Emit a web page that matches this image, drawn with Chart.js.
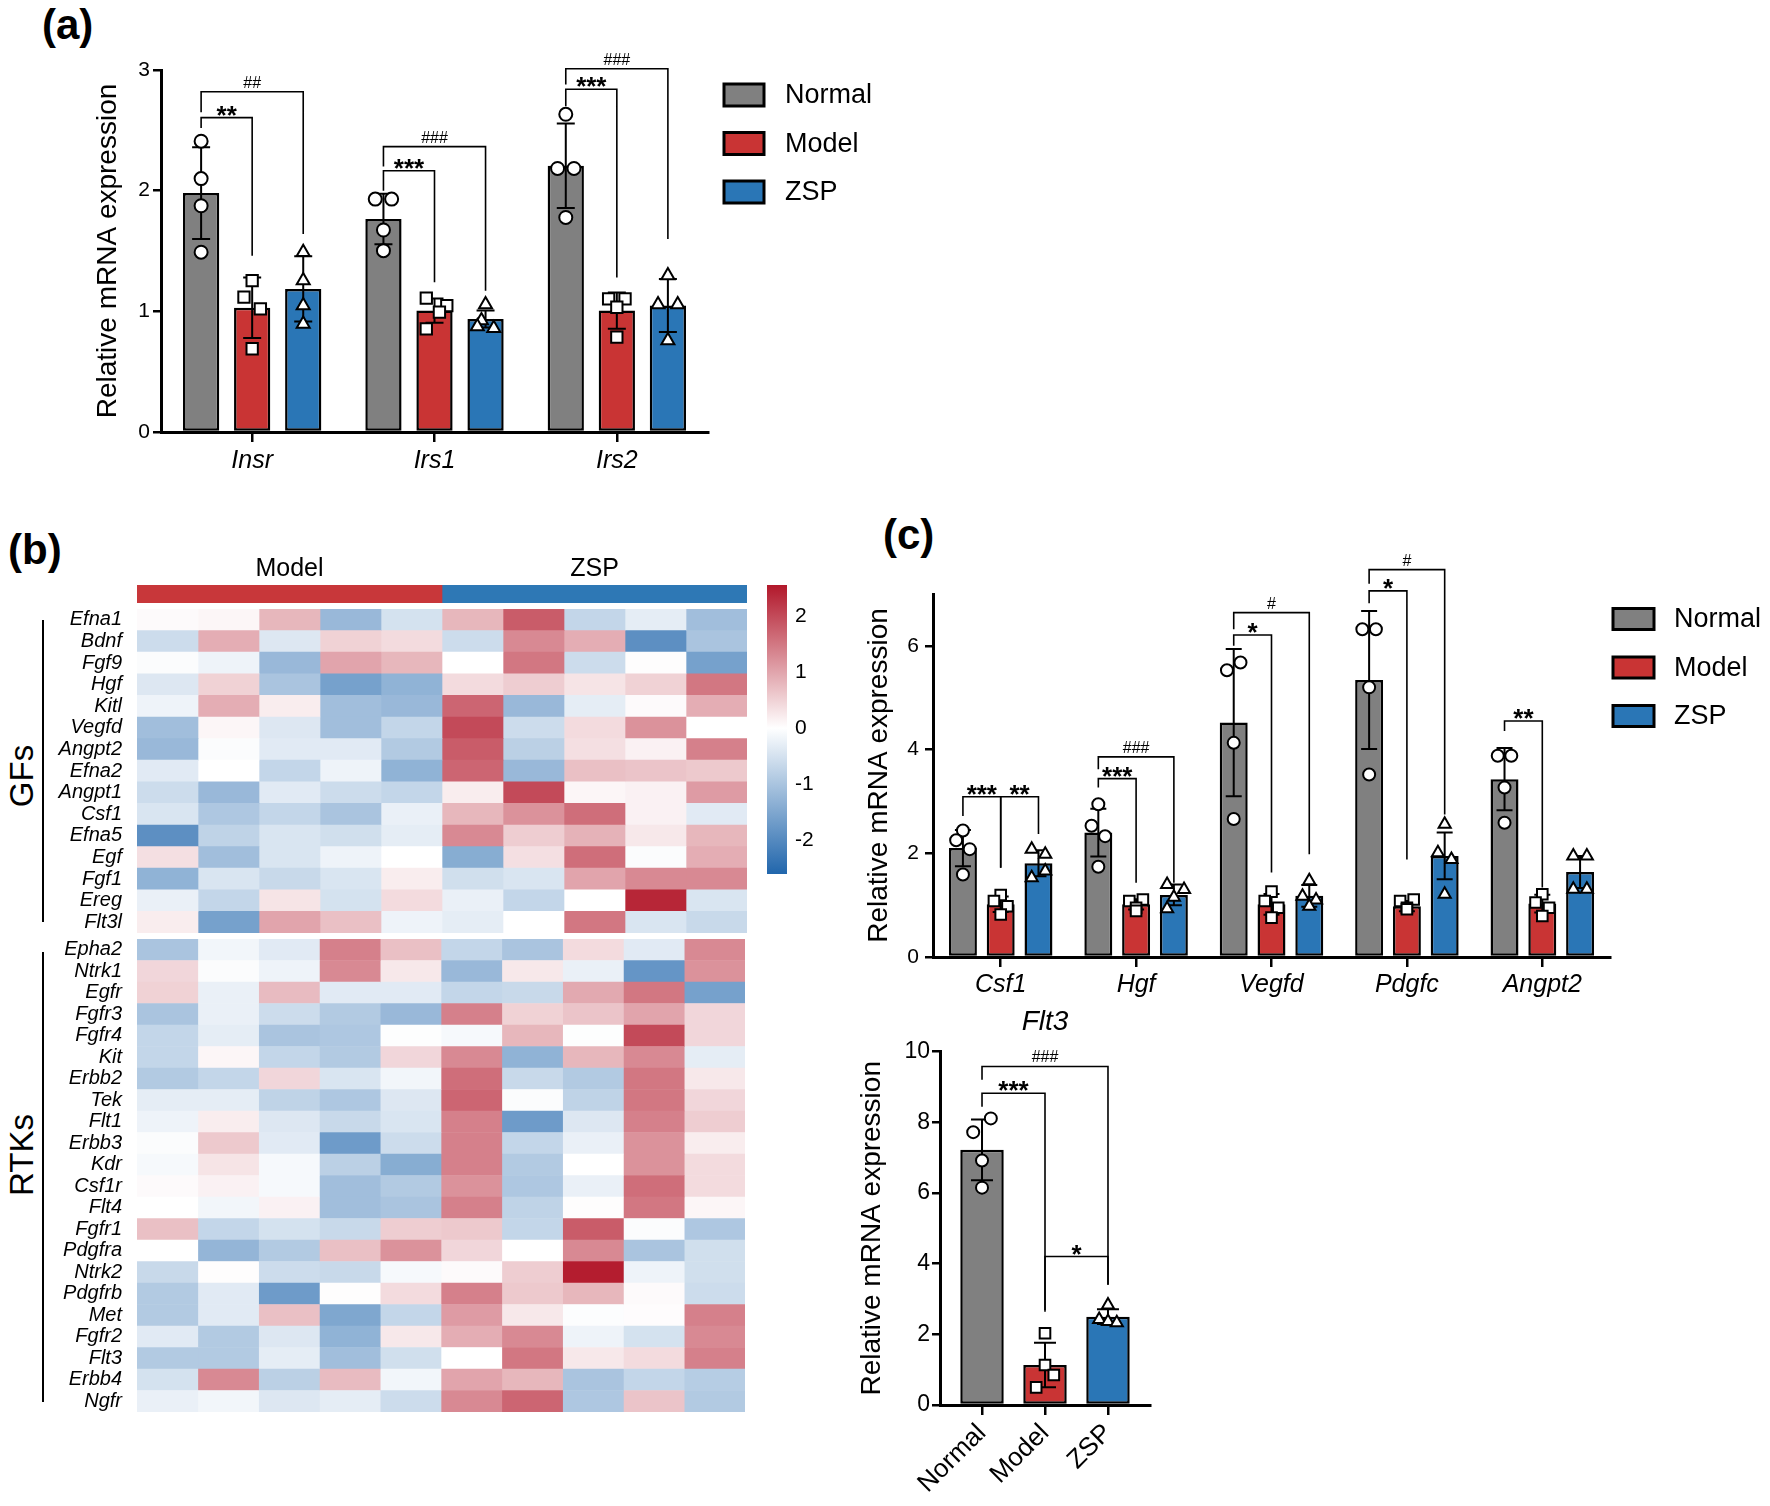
<!DOCTYPE html>
<html>
<head>
<meta charset="utf-8">
<title>Insulin / growth factor receptor expression</title>
<script src="https://cdn.jsdelivr.net/npm/chart.js"></script>
<style>
  body { margin: 0; background: #fff; }
  #page { position: relative; width: 1770px; height: 1506px; font-family: 'Liberation Sans', Arial, Helvetica, sans-serif; color: #000; overflow: hidden; }
  canvas { position: absolute; }
  .tag { position: absolute; font-weight: bold; font-size: 42px; line-height: 1; }
  .grp { position: absolute; font-size: 33px; line-height: 1; transform: translate(-50%, -50%) rotate(-90deg); white-space: nowrap; }
  .vline { position: absolute; width: 0; border-left: 2px solid #000; }
</style>
</head>
<body>
<div id="page">
  <div class="tag" style="left:42px; top:4px;">(a)</div>
  <div class="tag" style="left:8px; top:529px;">(b)</div>
  <div class="tag" style="left:883px; top:514px;">(c)</div>

  <div class="grp" style="left:21px; top:776px;">GFs</div>
  <div class="grp" style="left:21px; top:1155px;">RTKs</div>
  <div class="vline" style="left:42px; top:620px; height:302px;"></div>
  <div class="vline" style="left:42px; top:952px; height:450px;"></div>

  <canvas id="chartA" width="900" height="490" style="left:0; top:0;"></canvas>
  <canvas id="chartGroups" width="700" height="62" style="left:100px; top:545px;"></canvas>
  <canvas id="chartGF" width="760" height="384" style="left:0; top:579px;"></canvas>
  <canvas id="chartRTK" width="760" height="533" style="left:0; top:909px;"></canvas>
  <canvas id="chartScale" width="60" height="333" style="left:760px; top:563px;"></canvas>
  <canvas id="chartC" width="920" height="520" style="left:850px; top:500px;"></canvas>
  <canvas id="chartFlt3" width="370" height="506" style="left:830px; top:1000px;"></canvas>
</div>

<script>
// ---------- data ----------
const groups = ['Normal', 'Model', 'ZSP'];
const groupColors = ['#808080', '#C93434', '#2A76B6'];
const pointStyles = ['circle', 'rect', 'triangle'];
const pointRadii = [6.5, 8, 7.5];

// (a) insulin signalling genes
const aGenes = ['Insr', 'Irs1', 'Irs2'];
const aMean = [[1.98, 1.765, 2.206], [1.03, 1.006, 1.006], [1.186, 0.937, 1.048]];
const aSD = [[0.38, 0.21, 0.35], [0.25, 0.10, 0.15], [0.27, 0.07, 0.22]];
const aNormalPts = [[2.41, 2.10, 1.875, 1.49], [1.93, 1.93, 1.674, 1.503], [2.633, 2.184, 2.184, 1.778]];
const aModelPts = [[1.255, 1.117, 1.02, 0.69], [1.11, 1.048, 0.993, 0.855], [1.103, 1.103, 1.034, 0.786]];
const aZspPts = [[1.49, 1.255, 1.048, 0.896], [1.056, 0.924, 0.874, 0.86], [1.296, 1.056, 1.056, 0.758]];
const aNormalJit = [[0, 0, 0, 0], [-1, 1, 0, 0], [0, -1, 1, 0]];
const aModelJit = [[0, -1, 1, 0], [-1, 1.5, 0.6, -1], [-1, 1, 0, 0]];
const aZspJit = [[0, 0, 0, 0], [0, -0.5, -1, 1], [0, -1.2, 1.2, 0]];
// [from [group, gene], to [group, gene], bracket y, left leg end, right leg end, label]
const aBrackets = [
  [[0, 0], [1, 0], 2.605, 2.52, 1.46, '**'],
  [[0, 0], [2, 0], 2.82, 2.65, 1.64, '##'],
  [[0, 1], [1, 1], 2.165, 2.0, 1.24, '***'],
  [[0, 1], [2, 1], 2.365, 2.2, 1.17, '###'],
  [[0, 2], [1, 2], 2.84, 2.7, 1.28, '***'],
  [[0, 2], [2, 2], 3.01, 2.88, 1.6, '###']
];

// (c) growth factor genes
const cGenes = ['Csf1', 'Hgf', 'Vegfd', 'Pdgfc', 'Angpt2'];
const cMean = [[2.10, 2.40, 4.52, 5.34, 3.43], [1.016, 1.016, 1.016, 0.98, 1.03], [1.807, 1.196, 1.18, 1.95, 1.64]];
const cSD = [[0.35, 0.46, 1.42, 1.33, 0.6], [0.15, 0.10, 0.2, 0.10, 0.17], [0.25, 0.2, 0.21, 0.45, 0.31]];
const cNormalPts = [[2.44, 2.25, 2.08, 1.59], [2.945, 2.53, 2.33, 1.74], [5.68, 5.53, 4.13, 2.66], [6.32, 6.32, 5.2, 3.52], [3.88, 3.88, 3.27, 2.59]];
const cModelPts = [[1.196, 1.08, 0.98, 0.82], [1.11, 1.08, 0.95, 0.89], [1.26, 1.08, 0.95, 0.76], [1.11, 1.08, 0.95, 0.92], [1.21, 1.05, 0.95, 0.79]];
const cZspPts = [[2.08, 1.98, 1.66, 1.53], [1.4, 1.3, 1.15, 0.93], [1.47, 1.17, 1.1, 0.98], [2.56, 2.01, 1.88, 1.21], [1.95, 1.95, 1.305, 1.305]];
const cNormalJit = [[0, -1, 1, 0], [0, -1, 1, 0], [1, -1, 0, 0], [-1, 1, 0, 0], [-1, 1, 0, 0]];
const cModelJit = [[0, -1, 1, 0], [1, -1, 0, 0], [0, -1, 1, 0], [1, -1, 0, 0], [0, -1, 1, 0]];
const cZspJit = [[-1, 1, 1, -1], [-1, 1.5, 0, -1], [0, -1, 1, 0], [0, -1, 1, 0], [-1, 1, -1, 1]];
const cBrackets = [
  [[0, 0], [1, 0], 3.09, 2.72, 1.72, '***'],
  [[1, 0], [2, 0], 3.09, 1.72, 2.37, '**'],
  [[0, 1], [1, 1], 3.44, 3.27, 1.43, '***'],
  [[0, 1], [2, 1], 3.86, 3.62, 1.43, '###'],
  [[0, 2], [1, 2], 6.21, 6.0, 1.63, '*'],
  [[0, 2], [2, 2], 6.64, 6.32, 1.98, '#'],
  [[0, 3], [1, 3], 7.06, 6.82, 1.88, '*'],
  [[0, 3], [2, 3], 7.47, 7.2, 2.75, '#'],
  [[0, 4], [1, 4], 4.55, 4.36, 1.34, '**']
];

// Flt3
const flt3Mean = [7.22, 1.13, 2.5];
const flt3SD = [0.86, 0.63, 0.21];
const flt3Pts = [[8.11, 7.72, 6.92, 6.15], [2.03, 1.13, 0.85, 0.5], [2.83, 2.42, 2.36, 2.33]];
const flt3Jit = [[1, -1, 0, 0], [0, 0, 1, -1], [0, -1, 0, 1]];
const flt3Brackets = [
  [[0, 0], [0, 2], 9.58, 9.2, 3.4, '###'],
  [[0, 0], [0, 1], 8.82, 8.44, 2.64, '***'],
  [[0, 1], [0, 2], 4.2, 2.69, 3.4, '*']
];

// (b) heatmap, z-scores, columns = Model 1-5, ZSP 1-5
const sampleNames = ['Model 1', 'Model 2', 'Model 3', 'Model 4', 'Model 5', 'ZSP 1', 'ZSP 2', 'ZSP 3', 'ZSP 4', 'ZSP 5'];
const sampleGroups = ['Model', 'ZSP'];
const sampleGroupSizes = [5, 5];
const gfGenes = ['Efna1', 'Bdnf', 'Fgf9', 'Hgf', 'Kitl', 'Vegfd', 'Angpt2', 'Efna2', 'Angpt1', 'Csf1', 'Efna5', 'Egf', 'Fgf1', 'Ereg', 'Flt3l'];
const gfValues = [
  [0.05, 0.1, 0.8, -1.2, -0.5, 0.8, 1.8, -0.7, -0.3, -1.1],
  [-0.6, 0.9, -0.4, 0.5, 0.4, -0.6, 1.3, 0.9, -1.9, -1.0],
  [-0.05, -0.2, -1.2, 1.0, 0.8, 0, 1.5, -0.6, 0.02, -1.6],
  [-0.4, 0.5, -1.0, -1.6, -1.3, 0.4, 0.55, 0.3, 0.5, 1.5],
  [-0.2, 0.9, 0.2, -1.1, -1.2, 1.7, -1.2, -0.3, 0.05, 0.9],
  [-1.1, 0.1, -0.4, -1.1, -0.7, 2.0, -0.6, 0.4, 1.2, 0],
  [-1.2, -0.05, -0.35, -0.35, -0.9, 1.8, -0.8, 0.35, 0.15, 1.4],
  [-0.35, 0, -0.7, -0.2, -1.3, 1.7, -1.2, 0.7, 0.65, 0.6],
  [-0.6, -1.2, -0.35, -0.6, -0.7, 0.2, 2.0, 0.1, 0.15, 1.1],
  [-0.45, -0.95, -0.7, -1.0, -0.25, 0.8, 1.2, 1.6, 0.15, -0.35],
  [-1.9, -0.75, -0.45, -0.55, -0.3, 1.3, 0.55, 0.85, 0.25, 0.8],
  [0.35, -1.1, -0.45, -0.2, 0, -1.4, 0.35, 1.6, -0.05, 0.9],
  [-1.3, -0.45, -0.65, -0.45, 0.2, -0.55, -0.45, 1.0, 1.3, 1.3],
  [-0.25, -0.7, 0.3, -0.5, 0.4, -0.25, -0.7, 0, 2.4, -0.45],
  [0.2, -1.6, 1.0, 0.7, -0.2, -0.3, 0, 1.5, -0.45, -0.65]
];
const rtkGenes = ['Epha2', 'Ntrk1', 'Egfr', 'Fgfr3', 'Fgfr4', 'Kit', 'Erbb2', 'Tek', 'Flt1', 'Erbb3', 'Kdr', 'Csf1r', 'Flt4', 'Fgfr1', 'Pdgfra', 'Ntrk2', 'Pdgfrb', 'Met', 'Fgfr2', 'Flt3', 'Erbb4', 'Ngfr'];
const rtkValues = [
  [-1.0, -0.15, -0.35, 1.4, 0.7, -0.7, -1.0, 0.4, -0.35, 1.3],
  [0.45, -0.05, -0.2, 1.3, 0.25, -1.2, 0.25, -0.25, -1.8, 1.2],
  [0.5, -0.25, 0.75, -0.35, -0.35, -0.7, -0.65, 0.95, 1.5, -1.6],
  [-1.0, -0.25, -0.6, -0.9, -1.2, 1.4, 0.5, 0.65, 1.0, 0.45],
  [-0.7, -0.3, -1.0, -0.95, -0.02, -0.1, 0.8, -0.02, 2.0, 0.45],
  [-0.7, 0.1, -0.7, -0.9, 0.45, 1.3, -1.3, 0.8, 1.3, -0.3],
  [-0.9, -0.7, 0.45, -0.45, -0.15, 1.6, -0.65, -0.9, 1.5, 0.25],
  [-0.3, -0.3, -0.75, -0.95, -0.4, 1.7, -0.05, -0.75, 1.5, 0.45],
  [-0.2, 0.2, -0.4, -0.65, -0.45, 1.4, -1.7, -0.4, 1.4, 0.55],
  [-0.05, 0.6, -0.35, -1.7, -0.6, 1.4, -0.7, -0.25, 1.2, 0.2],
  [-0.1, 0.3, -0.1, -0.8, -1.4, 1.4, -0.9, 0, 1.2, 0.4],
  [0.05, 0.15, -0.1, -1.1, -0.9, 1.2, -0.95, -0.25, 1.6, 0.4],
  [0, -0.15, 0.15, -1.1, -1.0, 1.4, -0.75, 0.02, 1.5, 0.1],
  [0.7, -0.7, -0.5, -0.65, 0.55, 0.6, -0.7, 1.8, -0.05, -0.95],
  [0, -1.25, -0.9, 0.7, 1.2, 0.45, 0, 1.3, -1.0, -0.55],
  [-0.65, 0.02, -0.6, -0.65, -0.1, 0.05, 0.55, 2.5, -0.2, -0.55],
  [-0.9, -0.35, -1.7, 0.02, 0.4, 1.4, 0.6, 0.8, 0.05, -0.6],
  [-0.9, -0.35, 0.7, -1.5, -0.7, 1.1, 0.25, -0.03, 0.03, 1.4],
  [-0.35, -0.9, -0.4, -1.3, 0.25, 0.9, 1.3, -0.2, -0.5, 1.3],
  [-0.9, -0.9, -0.3, -1.1, -0.55, 0, 1.5, 0.25, 0.4, 1.4],
  [-0.5, 1.3, -0.8, 0.75, -0.15, 1.0, 0.8, -1.0, -0.7, -0.85],
  [-0.25, -0.15, -0.4, -0.3, -0.6, 1.3, 1.7, -0.95, 0.65, -0.9]
];
const scaleMin = -2.6;
const scaleMax = 2.55;
const scaleLow = [33, 102, 172];
const scaleHigh = [178, 24, 43];

// ---------- helpers ----------
const FONT = "'Liberation Sans', Arial, Helvetica, sans-serif";
Chart.defaults.font.family = FONT;
Chart.defaults.color = '#000';
Chart.defaults.animation = false;
Chart.defaults.responsive = false;
Chart.defaults.events = [];
Chart.defaults.plugins.legend.display = false;
Chart.defaults.plugins.tooltip.enabled = false;

function heatColor(v) {
  const c = v >= 0 ? scaleHigh : scaleLow;
  const t = Math.min(Math.abs(v) / (v >= 0 ? scaleMax : -scaleMin), 1);
  const mix = k => Math.round(255 + (c[k] - 255) * t);
  return `rgb(${mix(0)},${mix(1)},${mix(2)})`;
}

// error bars drawn right after each bar dataset, so the dots end up on top
const errorBars = {
  id: 'errorBars',
  afterDatasetDraw(chart, args, opts) {
    const ds = chart.data.datasets[args.index];
    if (!ds.sd) return;
    const ctx = chart.ctx, y = chart.scales.y;
    ctx.save();
    ctx.strokeStyle = '#000';
    ctx.lineWidth = 2;
    args.meta.data.forEach((bar, j) => {
      const m = typeof ds.data[j] === 'object' ? ds.data[j].y : ds.data[j];
      const top = y.getPixelForValue(m + ds.sd[j]);
      const bot = y.getPixelForValue(m - ds.sd[j]);
      ctx.beginPath();
      ctx.moveTo(bar.x, top); ctx.lineTo(bar.x, bot);
      ctx.moveTo(bar.x - opts.cap, top); ctx.lineTo(bar.x + opts.cap, top);
      ctx.moveTo(bar.x - opts.cap, bot); ctx.lineTo(bar.x + opts.cap, bot);
      ctx.stroke();
    });
    ctx.restore();
  }
};

// significance brackets
const brackets = {
  id: 'brackets',
  afterDraw(chart, args, opts) {
    const ctx = chart.ctx, y = chart.scales.y;
    ctx.save();
    ctx.strokeStyle = '#000';
    ctx.fillStyle = '#000';
    ctx.lineWidth = 1.6;
    ctx.textAlign = 'center';
    ctx.textBaseline = 'alphabetic';
    opts.items.forEach(([a, b, yLine, legA, legB, text]) => {
      const x1 = chart.getDatasetMeta(a[0]).data[a[1]].x;
      const x2 = chart.getDatasetMeta(b[0]).data[b[1]].x;
      const py = y.getPixelForValue(yLine);
      ctx.beginPath();
      ctx.moveTo(x1, y.getPixelForValue(legA));
      ctx.lineTo(x1, py);
      ctx.lineTo(x2, py);
      ctx.lineTo(x2, y.getPixelForValue(legB));
      ctx.stroke();
      const star = text[0] === '*';
      ctx.font = star ? `bold 26px ${FONT}` : `16px ${FONT}`;
      ctx.fillText(text, (x1 + x2) / 2, py + (star ? 6 : -4));
    });
    ctx.restore();
  }
};

// legend with outlined boxes beside the plot
const boxLegend = {
  id: 'boxLegend',
  afterDraw(chart, args, o) {
    const ctx = chart.ctx, area = chart.chartArea;
    let i = 0;
    ctx.save();
    chart.data.datasets.forEach(ds => {
      if (ds.type === 'scatter') return;
      const x = area.right + o.dx, cy = area.top + o.y0 + i * o.gap;
      ctx.fillStyle = ds.backgroundColor;
      ctx.fillRect(x, cy - o.h / 2, o.w, o.h);
      ctx.strokeStyle = '#000';
      ctx.lineWidth = 3;
      ctx.strokeRect(x, cy - o.h / 2, o.w, o.h);
      ctx.fillStyle = '#000';
      ctx.font = `27px ${FONT}`;
      ctx.textBaseline = 'middle';
      ctx.fillText(ds.label, x + o.textDx, cy + 1);
      i++;
    });
    ctx.restore();
  }
};

function yAxis(width, max, step, tickSize, titlePad, tickPad) {
  return {
    position: 'left', min: 0, max: max,
    afterFit: s => { s.width = width; },
    ticks: { stepSize: step, includeBounds: false, font: { size: tickSize }, padding: tickPad },
    grid: { drawOnChartArea: false, drawTicks: true, tickLength: 8, color: '#000', lineWidth: 2.5 },
    border: { display: true, color: '#000', width: 3 },
    title: { display: true, text: 'Relative mRNA expression', font: { size: 28 }, padding: { top: titlePad, bottom: 0 } }
  };
}

function xCatAxis(height, pad) {
  return {
    type: 'category', offset: true,
    afterFit: s => { s.height = height; },
    ticks: { font: { size: 25, style: 'italic' }, padding: pad, autoSkip: false, maxRotation: 0 },
    grid: { offset: false, drawOnChartArea: false, drawTicks: true, tickLength: 10, color: '#000', lineWidth: 2.5 },
    border: { display: true, color: '#000', width: 3 }
  };
}

// hidden linear axis lined up with the category axis; bars and dots sit on it
function slotAxis(n) {
  return { type: 'linear', display: false, offset: false, min: -0.5, max: n - 0.5, grid: { offset: false } };
}

// bars: group k sits at gene index + its slot offset inside the gene's band
function barSets(means, sds, slot, barPct) {
  return groups.map((g, k) => ({
    label: g, xAxisID: 'xs',
    data: means[k].map((m, c) => ({ x: c + (k - 1) * slot, y: m })), sd: sds[k],
    backgroundColor: groupColors[k], borderColor: '#000', borderWidth: 2.5, borderSkipped: false,
    grouped: false, categoryPercentage: 1, barPercentage: barPct, order: 1
  }));
}

function dotSet(k, pts, jit, slot, spread, radius) {
  const data = [];
  pts.forEach((vals, c) => vals.forEach((v, n) => data.push({ x: c + (k - 1) * slot + jit[c][n] * spread, y: v })));
  return {
    type: 'scatter', label: groups[k] + ' points', data: data, xAxisID: 'xs', yAxisID: 'y',
    pointStyle: pointStyles[k], pointRadius: radius || pointRadii[k],
    pointBackgroundColor: '#fff', pointBorderColor: '#000', pointBorderWidth: 2, order: 0
  };
}

// ---------- (a) ----------
const SLOT_A = 0.28;
new Chart(document.getElementById('chartA'), {
  type: 'bar',
  data: {
    labels: aGenes,
    datasets: barSets(aMean, aSD, SLOT_A, 0.71).concat([
      dotSet(0, aNormalPts, aNormalJit, SLOT_A, 0.045),
      dotSet(1, aModelPts, aModelJit, SLOT_A, 0.045),
      dotSet(2, aZspPts, aZspJit, SLOT_A, 0.045)
    ])
  },
  options: {
    layout: { padding: { left: 0, top: 70, right: 192, bottom: 0 } },
    scales: {
      x: xCatAxis(58, 4),
      xs: slotAxis(aGenes.length),
      y: yAxis(161, 3, 1, 21, 91, 3)
    },
    plugins: {
      errorBars: { cap: 9 },
      brackets: { items: aBrackets },
      boxLegend: { dx: 16, y0: 25, gap: 48.5, w: 40, h: 22, textDx: 61 }
    }
  },
  plugins: [errorBars, brackets, boxLegend]
});

// ---------- (c) ----------
const SLOT_C = 0.279;
new Chart(document.getElementById('chartC'), {
  type: 'bar',
  data: {
    labels: cGenes,
    datasets: barSets(cMean, cSD, SLOT_C, 0.74).concat([
      dotSet(0, cNormalPts, cNormalJit, SLOT_C, 0.05, 6),
      dotSet(1, cModelPts, cModelJit, SLOT_C, 0.05, 7.5),
      dotSet(2, cZspPts, cZspJit, SLOT_C, 0.05, 7)
    ])
  },
  options: {
    layout: { padding: { left: 0, top: 94, right: 160, bottom: 0 } },
    scales: {
      x: xCatAxis(63, 3),
      xs: slotAxis(cGenes.length),
      y: yAxis(83, 7, 2, 21, 12, 6)
    },
    plugins: {
      errorBars: { cap: 8 },
      brackets: { items: cBrackets },
      boxLegend: { dx: 3, y0: 25, gap: 48.5, w: 41, h: 21, textDx: 61 }
    }
  },
  plugins: [errorBars, brackets, boxLegend]
});

// ---------- Flt3 ----------
new Chart(document.getElementById('chartFlt3'), {
  type: 'bar',
  data: {
    datasets: [{
      label: 'Flt3', data: flt3Mean.map((v, i) => ({ x: i, y: v })), sd: flt3SD,
      backgroundColor: groupColors, borderColor: '#000', borderWidth: 2.5, borderSkipped: false,
      grouped: false, categoryPercentage: 1, barPercentage: 0.69, order: 1
    }].concat(groups.map((g, k) => ({
      type: 'scatter', label: g + ' points', xAxisID: 'x', yAxisID: 'y',
      data: flt3Pts[k].map((v, n) => ({ x: k + flt3Jit[k][n] * 0.14, y: v })),
      pointStyle: pointStyles[k], pointRadius: [6, 7.5, 7][k],
      pointBackgroundColor: '#fff', pointBorderColor: '#000', pointBorderWidth: 2, order: 0
    })))
  },
  options: {
    layout: { padding: { left: 0, top: 0, right: 50, bottom: 0 } },
    scales: {
      x: {
        type: 'linear', min: -0.667, max: 2.667, offset: false,
        afterFit: s => { s.height = 101; },
        afterBuildTicks: s => { s.ticks = groups.map((g, i) => ({ value: i })); },
        ticks: { callback: v => groups[v], font: { size: 26 }, padding: 3, autoSkip: false, minRotation: 45, maxRotation: 45 },
        grid: { offset: false, drawOnChartArea: false, drawTicks: true, tickLength: 10, color: '#000', lineWidth: 2.5 },
        border: { display: true, color: '#000', width: 3 }
      },
      y: yAxis(110, 10, 2, 23, 25, 2)
    },
    plugins: {
      title: { display: true, text: 'Flt3', fullSize: false, font: { size: 28, style: 'italic', weight: 'normal' }, padding: { top: 5, bottom: 13 } },
      errorBars: { cap: 11 },
      brackets: { items: flt3Brackets }
    }
  },
  plugins: [errorBars, brackets]
});

// ---------- (b) heatmap ----------
// padding 30 covers the half-label room that the gene axis asks for
function heatChart(id, genes, values, padRight) {
  new Chart(document.getElementById(id), {
    type: 'bar',
    data: {
      labels: genes,
      datasets: sampleNames.map((name, s) => ({
        label: name,
        data: genes.map(() => 1),
        backgroundColor: values.map(row => heatColor(row[s])),
        borderWidth: 0, barPercentage: 1, categoryPercentage: 1
      }))
    },
    options: {
      indexAxis: 'y',
      layout: { padding: { left: 0, top: 30, right: padRight, bottom: 30 } },
      scales: {
        x: { stacked: true, min: 0, max: sampleNames.length, display: false },
        y: {
          stacked: true,
          afterFit: s => { s.width = 137; },
          grid: { display: false, drawTicks: false },
          border: { display: false },
          ticks: { font: { size: 20, style: 'italic' }, padding: 15, autoSkip: false }
        }
      }
    }
  });
}
heatChart('chartGF', gfGenes, gfValues, 13);
heatChart('chartRTK', rtkGenes, rtkValues, 15);

// group annotation bar above the heatmap
new Chart(document.getElementById('chartGroups'), {
  type: 'bar',
  data: {
    labels: [''],
    datasets: sampleGroups.map((g, i) => ({
      label: g, data: [sampleGroupSizes[i]],
      backgroundColor: ['#C8373A', '#2E78B5'][i], borderWidth: 0,
      barPercentage: 1, categoryPercentage: 1
    }))
  },
  options: {
    indexAxis: 'y',
    layout: { padding: { left: 37, top: 0, right: 53, bottom: 4 } },
    scales: {
      x: {
        stacked: true, position: 'top', min: 0, max: sampleNames.length,
        afterFit: s => { s.height = 40; },
        afterBuildTicks: s => {
          let start = 0;
          s.ticks = sampleGroupSizes.map(n => { const v = start + n / 2; start += n; return { value: v }; });
        },
        ticks: {
          callback: v => {
            let start = 0;
            for (let i = 0; i < sampleGroupSizes.length; i++) {
              if (v === start + sampleGroupSizes[i] / 2) return sampleGroups[i];
              start += sampleGroupSizes[i];
            }
            return '';
          },
          font: { size: 25 }, padding: 1, maxRotation: 0
        },
        grid: { display: false, drawTicks: false },
        border: { display: false }
      },
      y: { stacked: true, display: false }
    }
  }
});

// colour key
new Chart(document.getElementById('chartScale'), {
  type: 'bar',
  data: {
    labels: [''],
    datasets: [{
      label: 'z-score', data: [[scaleMin, scaleMax]], borderWidth: 0,
      barPercentage: 1, categoryPercentage: 1,
      backgroundColor: c => {
        const y = c.chart.scales.y;
        if (!y || !c.chart.chartArea) return '#fff';
        const g = c.chart.ctx.createLinearGradient(0, y.getPixelForValue(scaleMin), 0, y.getPixelForValue(scaleMax));
        g.addColorStop(0, `rgb(${scaleLow.join(',')})`);
        g.addColorStop(-scaleMin / (scaleMax - scaleMin), '#ffffff');
        g.addColorStop(1, `rgb(${scaleHigh.join(',')})`);
        return g;
      }
    }]
  },
  options: {
    layout: { padding: { left: 7, top: 22, right: 0, bottom: 22 } },
    scales: {
      x: { display: false },
      y: {
        position: 'right', min: scaleMin, max: scaleMax,
        afterFit: s => { s.width = 33; },
        ticks: { stepSize: 1, includeBounds: false, font: { size: 21 }, padding: 8 },
        grid: { display: false, drawTicks: false },
        border: { display: false }
      }
    }
  }
});
</script>
</body>
</html>
